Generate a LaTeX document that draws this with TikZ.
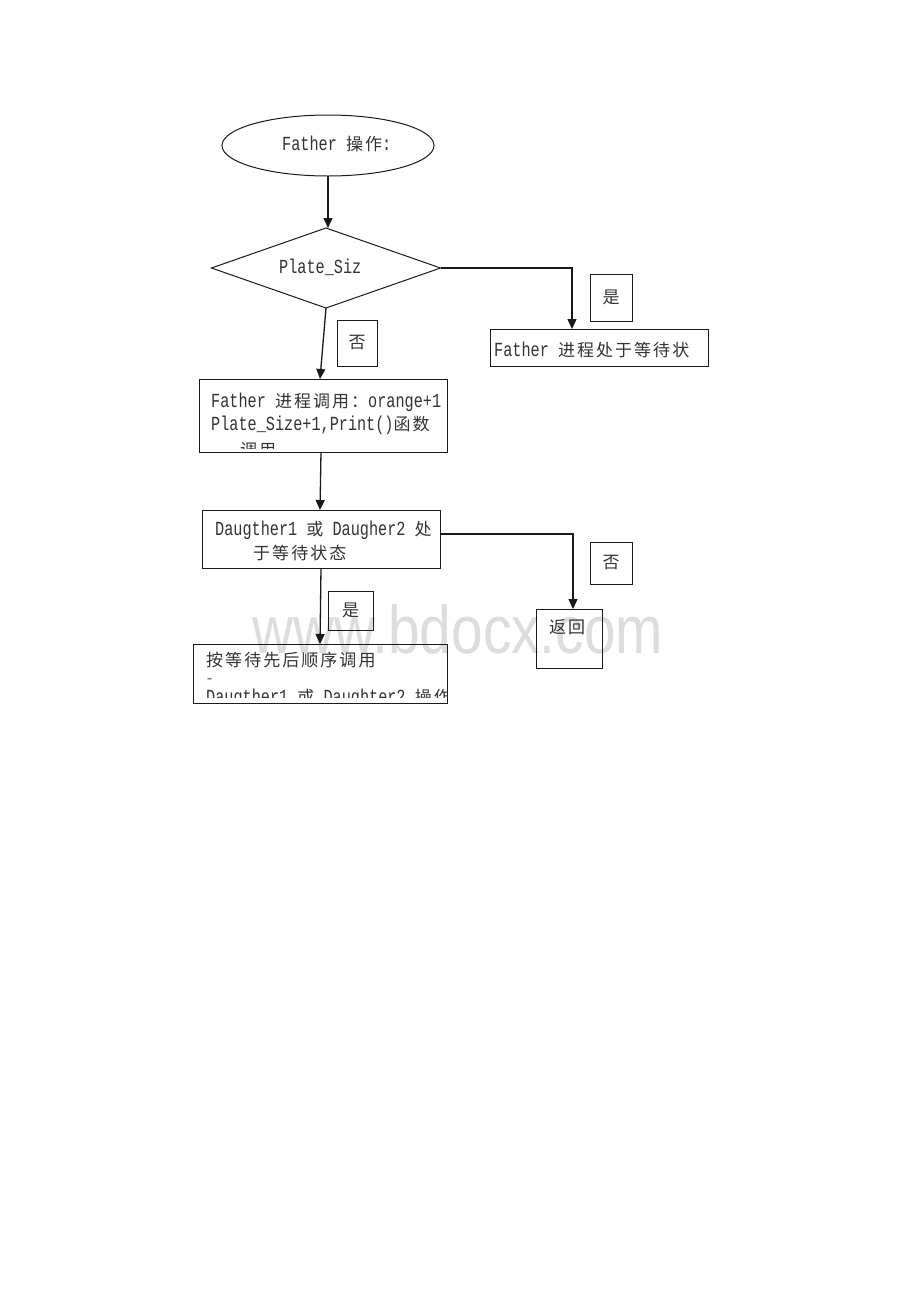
\documentclass[tikz,border=0pt]{standalone}
\usepackage{fontspec}
\setmainfont[FakeStretch=0.76]{Liberation Mono}
\newfontfamily\cjkf[LetterSpace=12]{Noto Sans CJK SC}
\newfontfamily\wmf{Liberation Sans}
\usetikzlibrary{shapes.geometric,arrows.meta}
\newcommand\zh[1]{{\cjkf\fontsize{17}{19}\selectfont #1}}
\definecolor{tc}{HTML}{333333}
\definecolor{lc}{HTML}{1A1A1A}
\definecolor{wmc}{HTML}{DDDDDD}
\begin{document}
\begin{tikzpicture}[x=1pt,y=-1pt,
  font=\fontsize{20}{22}\selectfont,
  box/.style={draw=lc, line width=1pt, inner sep=0pt, outer sep=0pt, text=tc},
  txt/.style={inner sep=0pt, anchor=base west, text=tc},
  conn/.style={draw=lc, line width=1.3pt, -{Triangle[length=10pt,width=9pt]}}]
\useasboundingbox (0,0) rectangle (920,1302);
\fill[white] (0,0) rectangle (920,1302);
% watermark
\node[anchor=base west, inner sep=0pt, text=wmc] (wm) at (252,653) {\resizebox{411pt}{49pt}{\wmf www.bdocx.com}};
% shapes
\node[box, ellipse, minimum width=212, minimum height=61] (ell) at (328,145.5) {};
\node[txt] (ellt) at (282,150) {Father \zh{操作}:};
\node[box, diamond, minimum width=229, minimum height=80] (dia) at (326,268) {};
\node[txt] (diat) at (279,273) {Plate\_Siz};
\node[box, minimum width=218, minimum height=37] (fw) at (599,347.5) {};
\node[txt] (fwt) at (494,356) {Father \zh{进程处于等待状}};
\node[box, minimum width=42, minimum height=47] (yes1) at (611,297.5) {\zh{是}};
\node[box, minimum width=40, minimum height=46] (no1) at (357,343) {\zh{否}};
\node[box, minimum width=248, minimum height=73] (b3) at (323,415.5) {};
\node[txt] (b3a) at (211,407) {Father \zh{进程调用：}orange+1};
\node[txt] (b3b) at (211,430) {Plate\_Size+1,Print()\zh{函数}};
\begin{scope}
\clip (199,379) rectangle (447,448);
\node[txt] (b3c) at (240,456) {\zh{调用}};
\end{scope}
\node[box, minimum width=238, minimum height=58] (b4) at (321,539) {};
\node[txt] (b4a) at (215,535) {Daugther1 \zh{或} Daugher2 \zh{处}};
\node[txt] (b4b) at (253,559) {\zh{于等待状态}};
\node[box, minimum width=42, minimum height=42] (no2) at (611,563) {\zh{否}};
\node[box, minimum width=66, minimum height=59] (ret) at (569,638.5) {};
\node[txt] (rett) at (549,633) {\zh{返回}};
\node[box, minimum width=45, minimum height=39] (yes2) at (350.5,610.5) {\zh{是}};
\node[box, minimum width=254, minimum height=59] (b5) at (320,673.5) {};
\node[txt] (b5a) at (206,666) {\zh{按等待先后顺序调用}};
\node[txt, text=gray] (b5b) at (205,684) {-};
\begin{scope}
\clip (193,644) rectangle (447,697);
\node[txt] (b5c) at (206,703) {Daugther1 \zh{或} Daughter2 \zh{操作}};
\end{scope}
% connectors
\draw[conn] (ell.south) -- (ell.south |- dia.north);
\draw[conn] (dia.east) -| ([xshift=-27pt]fw.north);
\draw[conn] (dia.south) -- ([xshift=-3pt]b3.north);
\draw[conn] ([xshift=-2pt]b3.south) -- ([xshift=-1pt]b4.north);
\draw[conn] ([yshift=5pt]b4.east) -| ([xshift=4pt]ret.north);
\draw[conn] (b4.south) -- (b5.north);
\end{tikzpicture}
\end{document}
